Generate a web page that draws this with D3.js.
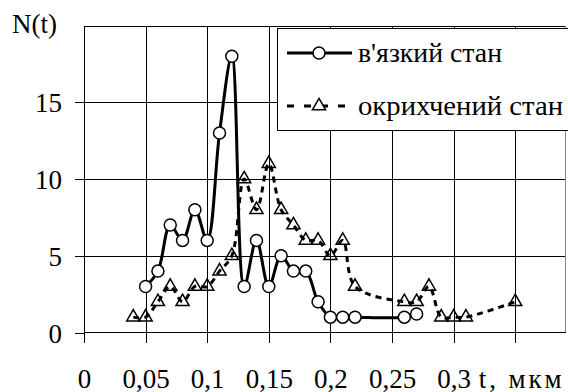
<!DOCTYPE html>
<html>
<head>
    <meta charset="UTF-8">
    <title>N(t)</title>
    <script src="https://d3js.org/d3.v7.min.js"></script>
    <style>
        body { margin: 0; background: #fff; }
        .grid line { stroke: #000; stroke-width: 1px; shape-rendering: crispEdges; }
        .axis path { display: none; }
        .axis line { stroke: #000; shape-rendering: crispEdges; }
    </style>
</head>
<body>
    <div id="chart"></div>
    <script>
        // data
        const tViscous = [0.05, 0.06, 0.07, 0.08, 0.09, 0.10, 0.11, 0.12, 0.13, 0.14, 0.15, 0.16, 0.17, 0.18, 0.19, 0.20, 0.21, 0.22, 0.26, 0.27];
        const nViscous = [3, 4, 7, 6, 8, 6, 13, 18, 3, 6, 3, 5, 4, 4, 2, 1, 1, 1, 1, 1.2];
        const tBrittle = [0.04, 0.05, 0.06, 0.07, 0.08, 0.09, 0.10, 0.11, 0.12, 0.13, 0.14, 0.15, 0.16, 0.17, 0.18, 0.19, 0.20, 0.21, 0.22, 0.26, 0.27, 0.28, 0.29, 0.30, 0.31, 0.35];
        const nBrittle = [1, 1, 2, 3, 2, 3, 3, 4, 5, 10, 8, 11, 8, 7, 6, 6, 5, 6, 3, 2, 2, 3, 1, 1, 1, 2];
        const xTicks = [0, 0.05, 0.1, 0.15, 0.2, 0.25, 0.3, 0.35];
        const xTickLabels = ["0", "0,05", "0,1", "0,15", "0,2", "0,25", "0,3", "t, мкм"];
        const yTicks = [0, 5, 10, 15];
        const seriesNames = ["в'язкий стан", "окрихчений стан"];

        const FONT = "Liberation Serif";
        const width = 568, height = 392;
        const plotLeft = 84, plotRight = 566, plotTop = 25.5, plotBottom = 332.5;

        const svg = d3.select("#chart").append("svg")
            .attr("width", width)
            .attr("height", height)
            .style("display", "block");

        const x = d3.scaleLinear().domain([0, 0.4]).range([plotLeft, plotLeft + 0.4 / 0.05 * 61.6]);
        const y = d3.scaleLinear().domain([0, 20]).range([plotBottom, plotTop]);

        // gridlines
        const grid = svg.append("g").attr("class", "grid");
        grid.selectAll("line.v")
            .data(xTicks.slice(1))
            .enter().append("line")
            .attr("class", "v")
            .attr("x1", d => Math.round(x(d)) + 0.5).attr("x2", d => Math.round(x(d)) + 0.5)
            .attr("y1", plotTop).attr("y2", plotBottom);
        grid.selectAll("line.h")
            .data(yTicks.slice(1).concat([20]))
            .enter().append("line")
            .attr("class", "h")
            .attr("x1", plotLeft).attr("x2", plotRight)
            .attr("y1", d => Math.round(y(d)) + 0.5).attr("y2", d => Math.round(y(d)) + 0.5);

        // right border (grey)
        svg.append("line")
            .attr("x1", plotRight - 0.5).attr("x2", plotRight - 0.5)
            .attr("y1", plotTop).attr("y2", plotBottom)
            .attr("stroke", "#888").attr("shape-rendering", "crispEdges");

        // axes
        const xAxis = svg.append("g")
            .attr("class", "axis")
            .attr("transform", `translate(0,${plotBottom})`)
            .call(d3.axisBottom(x).tickValues(xTicks).tickSize(10)
                .tickFormat((d, i) => xTickLabels[i]));
        xAxis.attr("font-family", null).attr("font-size", null);
        xAxis.selectAll("text")
            .attr("y", 55).attr("dy", 0).attr("fill", "#000")
            .attr("font-family", FONT).attr("font-size", 27);
        // unit label sits a bit wider than the numbers
        xAxis.selectAll(".tick").filter(d => d === 0.35).select("text")
            .attr("text-anchor", "start")
            .attr("x", -37)
            .attr("textLength", 83)
            .attr("lengthAdjust", "spacing");
        xAxis.append("line")
            .attr("x1", plotLeft).attr("x2", plotRight)
            .attr("y1", 0).attr("y2", 0);

        const yAxis = svg.append("g")
            .attr("class", "axis")
            .attr("transform", `translate(${plotLeft},0)`)
            .call(d3.axisLeft(y).tickValues(yTicks).tickSize(9).tickPadding(13));
        yAxis.attr("font-family", null).attr("font-size", null);
        yAxis.selectAll("text")
            .attr("dy", "0.36em").attr("fill", "#000")
            .attr("font-family", FONT).attr("font-size", 27);
        yAxis.append("line")
            .attr("x1", 0.5).attr("x2", 0.5)
            .attr("y1", plotTop).attr("y2", plotBottom);

        svg.append("text")
            .attr("x", 12).attr("y", 33)
            .attr("font-family", FONT)
            .attr("font-size", 27)
            .text("N(t)");

        // lines
        const line = d3.line()
            .x(d => x(d[0]))
            .y(d => y(d[1]))
            .curve(d3.curveCatmullRom.alpha(0.5));

        const viscous = tViscous.map((t, i) => [t, nViscous[i]]);
        const brittle = tBrittle.map((t, i) => [t, nBrittle[i]]);

        svg.append("path")
            .datum(brittle)
            .attr("d", line)
            .attr("fill", "none")
            .attr("stroke", "#000")
            .attr("stroke-width", 3)
            .attr("stroke-dasharray", "6,5");

        const tri = d3.symbol().type(d3.symbolTriangle).size(75);
        svg.append("g").selectAll("path")
            .data(brittle)
            .enter().append("path")
            .attr("d", tri)
            .attr("transform", d => `translate(${x(d[0])},${y(d[1])})`)
            .attr("fill", "none")
            .attr("stroke", "#000")
            .attr("stroke-width", 1.5);

        svg.append("path")
            .datum(viscous)
            .attr("d", line)
            .attr("fill", "none")
            .attr("stroke", "#000")
            .attr("stroke-width", 3);

        svg.append("g").selectAll("circle")
            .data(viscous)
            .enter().append("circle")
            .attr("cx", d => x(d[0]))
            .attr("cy", d => y(d[1]))
            .attr("r", 6)
            .attr("fill", "#fff")
            .attr("stroke", "#000")
            .attr("stroke-width", 1.5);

        // legend
        const legend = svg.append("g");
        legend.append("rect")
            .attr("x", 277.5).attr("y", 28.5)
            .attr("width", 300).attr("height", 102)
            .attr("fill", "#fff").attr("stroke", "#000");

        const rows = [53, 106];
        const legendWidths = [144, 205];
        rows.forEach((ry, i) => {
            legend.append("line")
                .attr("x1", 287).attr("x2", 352)
                .attr("y1", ry).attr("y2", ry)
                .attr("stroke", "#000").attr("stroke-width", 3)
                .attr("stroke-dasharray", i === 0 ? null : "7,10");
            if (i === 0) {
                legend.append("circle")
                    .attr("cx", 319).attr("cy", ry).attr("r", 6)
                    .attr("fill", "#fff").attr("stroke", "#000").attr("stroke-width", 1.5);
            } else {
                legend.append("path")
                    .attr("d", tri)
                    .attr("transform", `translate(319,${ry})`)
                    .attr("fill", "#fff").attr("stroke", "#000").attr("stroke-width", 1.5);
            }
            legend.append("text")
                .attr("x", 358).attr("y", ry + 9)
                .attr("font-family", FONT)
                .attr("font-size", 28)
                .attr("textLength", legendWidths[i])
                .attr("lengthAdjust", "spacingAndGlyphs")
                .text(seriesNames[i]);
        });
    </script>
</body>
</html>
